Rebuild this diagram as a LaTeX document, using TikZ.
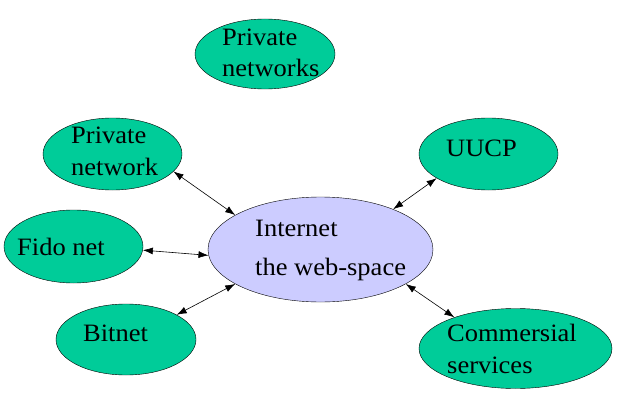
\documentclass[tikz,border=0pt]{standalone}
\usepackage{fontspec}
\setmainfont[FakeStretch=1.06]{Liberation Serif}
\usetikzlibrary{shapes.geometric,arrows.meta}
\definecolor{netgreen}{RGB}{0,204,153}
\definecolor{netblue}{RGB}{204,204,255}
\begin{document}
\begin{tikzpicture}[x=1pt,y=-1pt,
  net/.style={ellipse,draw,fill=netgreen,inner sep=0pt},
  lbl/.style={anchor=base west,inner sep=0pt,align=left,font=\fontsize{25}{31.5}\selectfont},
  link/.style={{Latex[length=10pt,width=7pt]}-{Latex[length=10pt,width=7pt]},line width=.6pt}]
\useasboundingbox(0,0)rectangle(619,412);
\node[net,minimum width=140pt,minimum height=70pt](pns)at(265,54){};
\node[net,minimum width=139pt,minimum height=72pt](pn)at(112.5,154){};
\node[net,minimum width=139pt,minimum height=72pt](uucp)at(488.5,154){};
\node[net,minimum width=139pt,minimum height=73pt](fido)at(73.5,246.5){};
\node[ellipse,draw,fill=netblue,inner sep=0pt,minimum width=225pt,minimum height=105pt](inet)at(320.5,249.5){};
\node[net,minimum width=140pt,minimum height=71pt](bit)at(126,339.5){};
\node[net,minimum width=193pt,minimum height=80pt](com)at(515.5,348.5){};
% multi-line labels sit on their last baseline
\node[lbl](pnst)at(222,77){Private\\networks};
\node[lbl](pnt)at(71,175){Private\\network};
\node[lbl](uucpt)at(446,156){UUCP};
\node[lbl](fidot)at(17,255){Fido net};
\node[lbl](inett)at(255,275){Internet\\[7pt]the web-space};
\node[lbl](bitt)at(83,341){Bitnet};
\node[lbl](comt)at(447,373){Commersial\\services};
\draw[link](pn.-16)--(inet.158);
\draw[link](fido.-3)--(inet.183);
\draw[link](bit.26)--(inet.202);
\draw[link](uucp.205)--(inet.29);
\draw[link](com.153)--(inet.-22);
\end{tikzpicture}
\end{document}
